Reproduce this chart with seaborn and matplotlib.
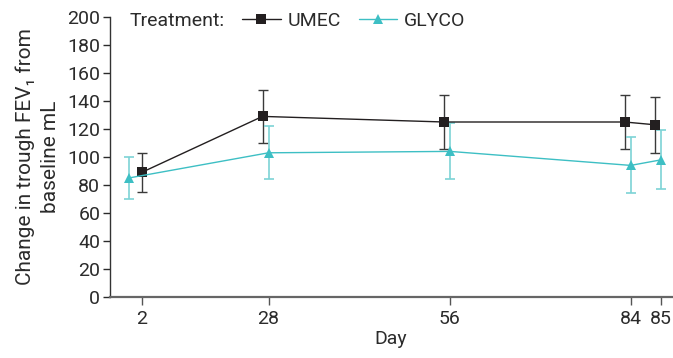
import numpy as np
import pandas as pd
import matplotlib
matplotlib.use("Agg")
import matplotlib.pyplot as plt
import seaborn as sns
from matplotlib.lines import Line2D

# ---- data ----
days = [2, 28, 56, 84, 85]
umec_mean = [89, 129, 125, 125, 123]
umec_err = [14, 19, 19, 19, 20]
glyco_mean = [85, 103, 104, 94, 98]
glyco_err = [15, 19, 20, 20, 21]
treatments = ["UMEC", "GLYCO"]
y_ticks = [0, 20, 40, 60, 80, 100, 120, 140, 160, 180, 200]

# ---- styles ----
umec_color = "#231f20"
umec_ecolor = "#3a3a3a"
glyco_color = "#3dbfc4"
glyco_ecolor = "#7dd3d6"
# horizontal dodge of markers, in axis pixels
umec_dodge = [0, -6, -6, -6, -6]
glyco_dodge = [-13, 0, 0, 0, 0]

sns.set_theme(style="ticks")
plt.rcParams["font.family"] = ["Roboto", "DejaVu Sans"]

# non-uniform day axis (piecewise linear, as in the original figure)
_d_anchor = np.array([-50.0, 2, 28, 56, 84, 85, 200])
_p_anchor = np.array([141.7 - 52 * 4.88, 141.7, 268.5, 450.0, 630.7, 661.3, 661.3 + 115 * 30.6])

def fwd(d):
    return np.interp(d, _d_anchor, _p_anchor)

def inv(p):
    return np.interp(p, _p_anchor, _d_anchor)

def dodged(ds, off):
    return inv(fwd(np.asarray(ds, float)) + np.asarray(off, float))

fig = plt.figure(figsize=(6.73, 3.58), dpi=100)
ax = fig.add_axes([110 / 673, 61 / 358, 562 / 673, 280 / 358])
ax.set_xscale("function", functions=(fwd, inv))

ux = dodged(days, umec_dodge)
gx = dodged(days, glyco_dodge)

df = pd.DataFrame({
    "x": np.concatenate([ux, gx]),
    "value": umec_mean + glyco_mean,
    "Treatment": [treatments[0]] * len(days) + [treatments[1]] * len(days),
})

# error bars
ax.errorbar(ux, umec_mean, yerr=umec_err, fmt="none", ecolor=umec_ecolor,
            elinewidth=1.0, capsize=3.5, capthick=1.0, zorder=2)
ax.errorbar(gx, glyco_mean, yerr=glyco_err, fmt="none", ecolor=glyco_ecolor,
            elinewidth=1.2, capsize=3.5, capthick=1.2, zorder=2)

sns.lineplot(data=df, x="x", y="value", hue="Treatment", style="Treatment",
             palette={"UMEC": umec_color, "GLYCO": glyco_color},
             markers={"UMEC": "s", "GLYCO": "^"}, dashes=False,
             markersize=7.5, markeredgewidth=0, linewidth=1.0,
             sort=False, ax=ax, legend=False, zorder=3)

ax.set_xlim(inv(110), inv(672))
ax.set_ylim(0, 200)
ax.set_xticks(days)
ax.set_xticklabels([str(d) for d in days])
ax.set_yticks(y_ticks)
ax.minorticks_off()

txt_color = "#2b2b2b"
fs = 14
ax.tick_params(axis="both", labelsize=fs, colors=txt_color, direction="out")
ax.tick_params(axis="y", length=5, width=1.0, pad=2)
ax.tick_params(axis="x", length=6, width=1.0, pad=3, color="#555555")

for s in ["top", "right"]:
    ax.spines[s].set_visible(False)
ax.spines["left"].set_color("#333333")
ax.spines["left"].set_linewidth(1.0)
ax.spines["bottom"].set_color("#666666")
ax.spines["bottom"].set_linewidth(1.6)

ax.set_xlabel("Day", fontsize=fs, color=txt_color, labelpad=2)
ax.set_ylabel("Change in trough FEV\u2081 from\nbaseline mL", fontsize=15,
              color=txt_color, labelpad=5, linespacing=1.4,
              multialignment="center")

# legend
fig.text(130 / 673, 1 - 21 / 358, "Treatment:", fontsize=fs, color=txt_color,
         va="center", ha="left")
handles = [
    Line2D([], [], color=umec_color, marker="s", markersize=7.5, lw=1.0, markeredgewidth=0),
    Line2D([], [], color=glyco_color, marker="^", markersize=7.5, lw=1.0, markeredgewidth=0),
]
leg = fig.legend(handles, treatments, loc="center left",
                 bbox_to_anchor=(242 / 673, 1 - 21 / 358), ncol=2, frameon=False,
                 fontsize=fs, handlelength=2.0, handletextpad=0.35,
                 columnspacing=0.9, borderaxespad=0, borderpad=0)
for t in leg.get_texts():
    t.set_color(txt_color)

fig.savefig("out.png", dpi=100)
